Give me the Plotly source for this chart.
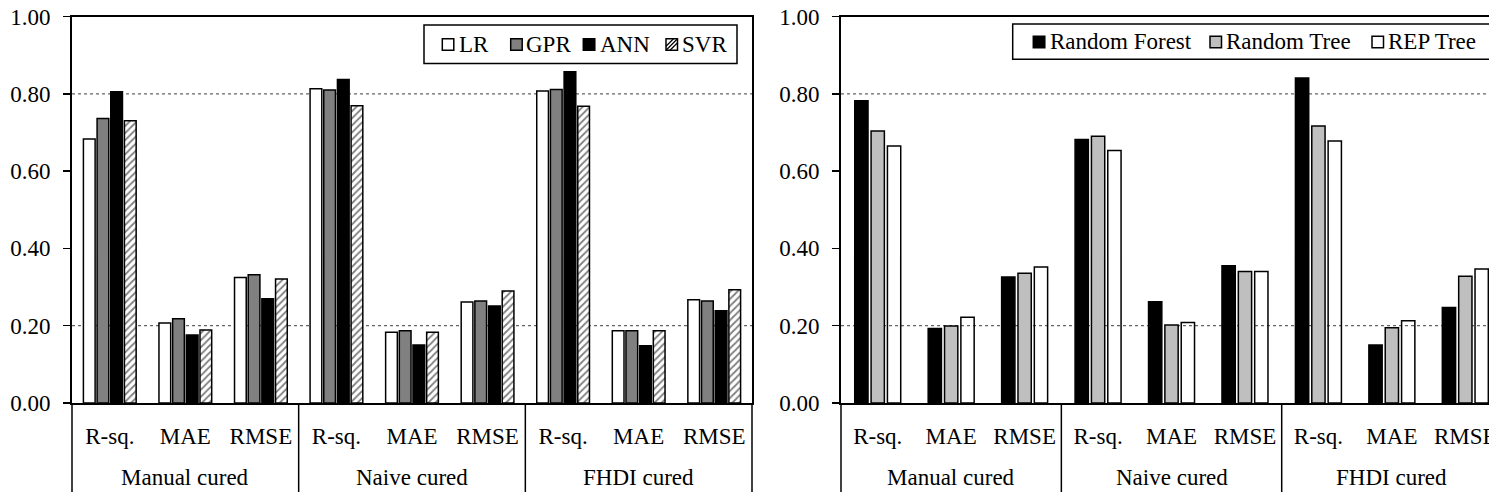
import plotly.graph_objects as go

# ---------------- data ----------------
groups = ["Manual cured", "Naive cured", "FHDI cured"]
metrics = ["R-sq.", "MAE", "RMSE"]

# left panel (group-major: Manual R-sq, MAE, RMSE, Naive ..., FHDI ...)
lr_vals  = [0.683, 0.207, 0.325, 0.813, 0.183, 0.261, 0.807, 0.187, 0.267]
gpr_vals = [0.736, 0.218, 0.332, 0.810, 0.187, 0.264, 0.811, 0.187, 0.264]
ann_vals = [0.805, 0.176, 0.270, 0.837, 0.150, 0.251, 0.857, 0.148, 0.239]
svr_vals = [0.730, 0.189, 0.321, 0.769, 0.183, 0.290, 0.768, 0.187, 0.293]

# right panel
rf_vals  = [0.782, 0.193, 0.326, 0.682, 0.262, 0.355, 0.841, 0.150, 0.247]
rt_vals  = [0.704, 0.199, 0.336, 0.690, 0.202, 0.340, 0.717, 0.195, 0.328]
rep_vals = [0.665, 0.222, 0.352, 0.653, 0.208, 0.340, 0.678, 0.213, 0.347]

left_names = ["LR", "GPR", "ANN", "SVR"]
right_names = ["Random Forest", "Random Tree", "REP Tree"]
ref_lines = [0.8, 0.2]
y_tickvals = [0.0, 0.2, 0.4, 0.6, 0.8, 1.0]

# ---------------- layout constants ----------------
W, H = 1489, 499
FONT = "Liberation Serif, Times New Roman, serif"
FS = 23


def px(x):
    return x / W


def py(y):
    return 1 - y / H


x_keys = [g + " | " + m for g in groups for m in metrics]
x_ticktext = [m for _ in groups for m in metrics]

fig = go.Figure()

# left panel bars
left_vals = [lr_vals, gpr_vals, ann_vals, svr_vals]
left_fill = ["white", "#808080", "black", "white"]
slotL, widthL = 0.181, 0.155
nL = len(left_vals)
for i, (name, vals, col) in enumerate(zip(left_names, left_vals, left_fill)):
    marker = dict(color=col, line=dict(color="black", width=1.5))
    if name == "SVR":
        marker["pattern"] = dict(shape="/", fgcolor="black", bgcolor="white", size=5, solidity=0.35)
    off = -(nL - 1) / 2 * slotL - widthL / 2 + i * slotL
    fig.add_trace(go.Bar(x=x_keys, y=vals, name=name, marker=marker,
                         width=widthL, offset=off, xaxis="x", yaxis="y",
                         showlegend=False))

# right panel bars
right_vals = [rf_vals, rt_vals, rep_vals]
right_fill = ["black", "#bfbfbf", "rgba(255,255,255,0)"]
slotR, widthR = 0.2226, 0.181
nR = len(right_vals)
for i, (name, vals, col) in enumerate(zip(right_names, right_vals, right_fill)):
    off = -(nR - 1) / 2 * slotR - widthR / 2 + i * slotR
    fig.add_trace(go.Bar(x=x_keys, y=vals, name=name,
                         marker=dict(color=col, line=dict(color="black", width=1.5)),
                         width=widthR, offset=off, xaxis="x2", yaxis="y2",
                         showlegend=False))

# geometry (pixels)
plot_top, plot_bottom = 16.5, 403.0
plot_h = plot_bottom - plot_top
ydom = [(H - plot_bottom) / H, (H - plot_top) / H]
xdom1 = [72 / W, 752 / W]
xdom2 = [841 / W, 1.0]
cat_right = 73.45
x1_range = [-0.5, len(x_keys) - 0.5]
x2_range = [-0.5, -0.5 + (W - 841) / cat_right]
div_bottom = -89 / plot_h
group_label_y = -75 / plot_h

shapes = []
annotations = []
for xa, ya, rng in (("x", "y", x1_range), ("x2", "y2", x2_range)):
    # dashed reference lines
    for v in ref_lines:
        shapes.append(dict(type="line", xref=xa + " domain", yref=ya, x0=0, x1=1, y0=v, y1=v,
                           line=dict(color="#666666", width=1.2, dash="3px,3px"),
                           layer="below"))
    # group dividers below the axis
    for k in range(len(groups) + 1):
        b = -0.5 + k * len(metrics)
        xf = (b - rng[0]) / (rng[1] - rng[0])
        if xf > 1.001:
            continue
        shapes.append(dict(type="line", xref=xa + " domain", yref=ya + " domain",
                           x0=xf, x1=xf, y0=0, y1=div_bottom,
                           line=dict(color="black", width=1.5), layer="above"))
    # group labels
    for gi, g in enumerate(groups):
        annotations.append(dict(text=g, xref=xa, yref=ya + " domain",
                                x=x_keys[gi * len(metrics) + 1], y=group_label_y,
                                showarrow=False, yanchor="middle", xanchor="center",
                                font=dict(family=FONT, size=FS, color="black")))

# ---------------- hand-built legends (box, swatches, labels) ----------------
SW = 11.5  # swatch size (px)


def add_legend(box, cy, names, fills, sw_x, txt_x, hatched=()):
    bx0, by0, bx1, by1 = box
    shapes.append(dict(type="rect", xref="paper", yref="paper",
                       x0=px(bx0), x1=px(bx1), y0=py(by0), y1=py(by1),
                       fillcolor="white", line=dict(color="black", width=1.5),
                       layer="above"))
    for name, fill, sx, tx in zip(names, fills, sw_x, txt_x):
        y0, y1 = cy - SW / 2, cy + SW / 2
        shapes.append(dict(type="rect", xref="paper", yref="paper",
                           x0=px(sx), x1=px(sx + SW), y0=py(y1), y1=py(y0),
                           fillcolor=fill, line=dict(color="black", width=1.5),
                           layer="above"))
        if name in hatched:
            segs = []
            for d in (-4, 0, 4):
                ax0, ay0 = sx + max(0, d), y1 - max(0, -d)
                ax1, ay1 = sx + SW - max(0, -d), y0 + max(0, d)
                segs.append("M%.5f,%.5f L%.5f,%.5f" % (px(ax0), py(ay0), px(ax1), py(ay1)))
            shapes.append(dict(type="path", xref="paper", yref="paper", path=" ".join(segs),
                               line=dict(color="black", width=1.2), layer="above"))
        annotations.append(dict(text=name, xref="paper", yref="paper", x=px(tx), y=py(cy),
                                xanchor="left", yanchor="middle", showarrow=False,
                                font=dict(family=FONT, size=FS, color="black")))


add_legend(box=(424, 25, 737, 63.5), cy=44.5, names=left_names,
           fills=["white", "#808080", "black", "white"],
           sw_x=[442.3, 510.7, 583.3, 666.0], txt_x=[456.5, 524.0, 597.5, 680.0],
           hatched=("SVR",))
add_legend(box=(1012.7, 24, W + 10, 59.3), cy=42, names=right_names,
           fills=["black", "#bfbfbf", "white"],
           sw_x=[1033.3, 1210.0, 1372.0], txt_x=[1048.0, 1224.0, 1386.0])

xaxis_common = dict(type="category", showline=True, linecolor="black", linewidth=2,
                    mirror=True, ticks="", showgrid=False,
                    tickvals=x_keys, ticktext=x_ticktext, ticklabelstandoff=11,
                    tickfont=dict(family=FONT, size=FS, color="black"), automargin=False,
                    zeroline=False)
yaxis_common = dict(range=[0, 1], tickvals=y_tickvals, tickformat=".2f", showline=True,
                    linecolor="black", linewidth=2, ticks="outside", ticklen=7,
                    tickwidth=1.5, tickcolor="black", showgrid=False, zeroline=False,
                    tickfont=dict(family=FONT, size=FS, color="black"),
                    ticklabelstandoff=8, ticklabeloverflow="allow", automargin=False)

fig.update_layout(
    width=W, height=H,
    margin=dict(l=0, r=0, t=0, b=0, pad=0),
    paper_bgcolor="white", plot_bgcolor="white",
    barmode="group",
    font=dict(family=FONT, size=FS, color="black"),
    xaxis=dict(domain=xdom1, anchor="y", range=x1_range, **xaxis_common),
    yaxis=dict(domain=ydom, anchor="x", mirror=True, **yaxis_common),
    xaxis2=dict(domain=xdom2, anchor="y2", range=x2_range, **xaxis_common),
    yaxis2=dict(domain=ydom, anchor="x2", mirror=False, **yaxis_common),
    shapes=shapes,
    annotations=annotations,
    showlegend=False,
)

# remove the browser's default 8px page margin so the figure fills the window
fig.write_html("out.html",
               config={"displayModeBar": False, "staticPlot": True},
               post_script="document.body.style.margin='0px';document.body.style.overflow='hidden';")
